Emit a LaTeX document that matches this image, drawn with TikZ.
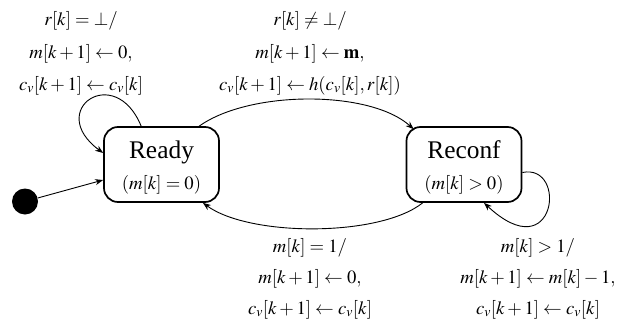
\documentclass[tikz,border=0pt]{standalone}
\usepackage{mathptmx}
\usepackage[no-math]{fontspec}
\setmainfont{Liberation Serif}
\usetikzlibrary{arrows.meta,calc}
\begin{document}
\begin{tikzpicture}[x=1pt,y=-1pt,
  state/.style={draw, line width=1.7pt, rounded corners=14pt, minimum width=115pt, minimum height=75pt, inner sep=0pt},
  statename/.style={anchor=base, inner sep=0pt, font=\fontsize{25.4}{30}\selectfont},
  lbl/.style={anchor=base, inner sep=0pt, font=\fontsize{18.7}{22}\selectfont},
  conn/.style={line width=0.9pt, -{Stealth[length=8pt,width=6pt,inset=2.5pt]}},
  initdot/.style={circle, fill, minimum size=26pt, inner sep=0pt}
]
\useasboundingbox (0,0) rectangle (630,327);

\node[state] (ready) at (161.5,164.5) {};
\node[state] (reconf) at (464,164.5) {};
\node[statename] (readyname) at (161.5,158.5) {Ready};
\node[lbl] (readycond) at (161.5,189) {$(m[k]=0)$};
\node[statename] (reconfname) at (464,158.5) {Reconf};
\node[lbl] (reconfcond) at (464,189) {$(m[k]>0)$};
\node[initdot] (init) at (25,201.5) {};

\draw[conn] (init) -- ($(ready.west)+(0,15.5)$);
\draw[conn] ($(ready.north west)+(38,0)$) .. controls (115,62) and (45,110) .. ($(ready.west)+(0,-11.5)$);
\draw[conn] ($(ready.north west)+(96,0)$) .. controls (250,90) and (370,90) .. ($(reconf.north west)+(8,3)$);
\draw[conn] ($(reconf.south west)+(17,0)$) .. controls (380,237) and (250,237) .. ($(ready.south east)+(-17,0)$);
\draw[conn] ($(reconf.east)+(0,8)$) .. controls (568,163) and (556,270) .. ($(reconf.south)+(20,0)$);

\node[lbl] (l1a) at (81,25.5) {$r[k]=\bot/$};
\node[lbl] (l1b) at (81,58) {$m[k+1]\leftarrow 0,$};
\node[lbl] (l1c) at (81,90) {$c_v[k+1]\leftarrow c_v[k]$};

\node[lbl] (l2a) at (310,25.5) {$r[k]\neq\bot/$};
\node[lbl] (l2b) at (310,58) {$m[k+1]\leftarrow \mathbf{m},$};
\node[lbl] (l2c) at (310,90) {$c_v[k+1]\leftarrow h(c_v[k],r[k])$};

\node[lbl] (l3a) at (310,252) {$m[k]=1/$};
\node[lbl] (l3b) at (310,283) {$m[k+1]\leftarrow 0,$};
\node[lbl] (l3c) at (310,314) {$c_v[k+1]\leftarrow c_v[k]$};

\node[lbl] (l4a) at (538,252) {$m[k]>1/$};
\node[lbl] (l4b) at (538,283) {$m[k+1]\leftarrow m[k]-1,$};
\node[lbl] (l4c) at (538,314) {$c_v[k+1]\leftarrow c_v[k]$};
\end{tikzpicture}
\end{document}
